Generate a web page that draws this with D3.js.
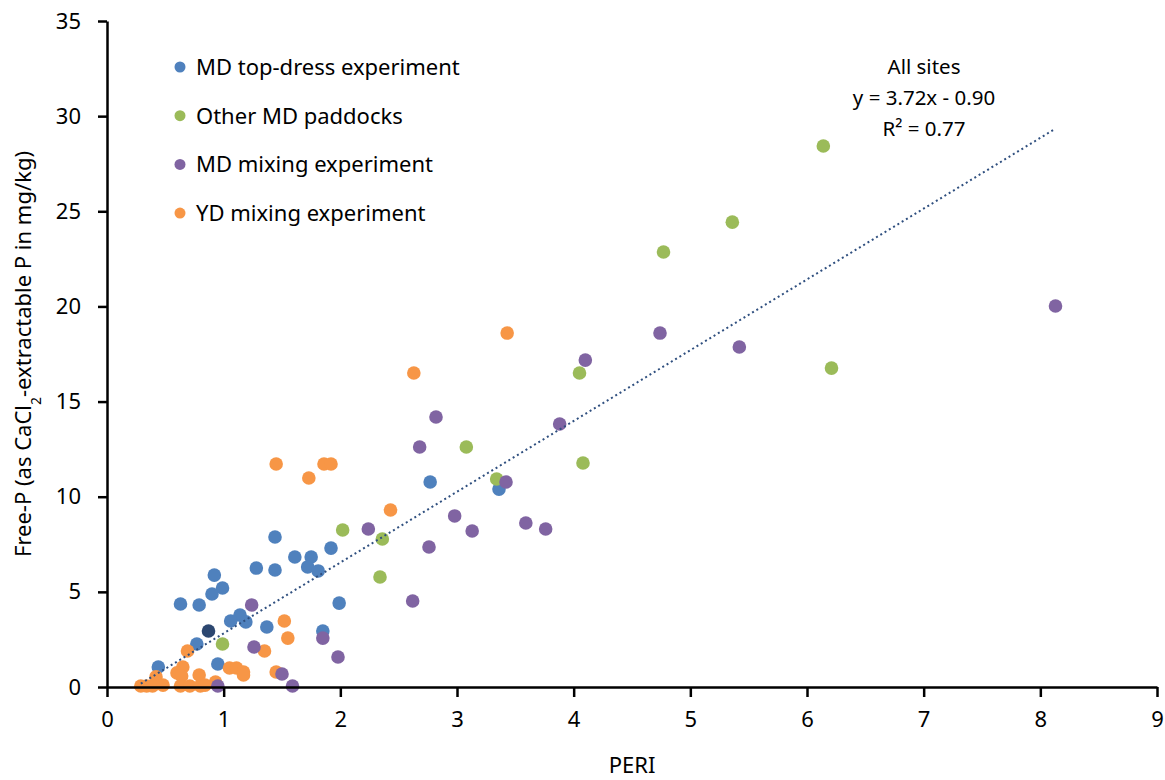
<!DOCTYPE html>
<html>
<head>
<meta charset="utf-8">
<script src="https://cdn.jsdelivr.net/npm/d3@7"></script>
<style>
  body { margin: 0; background: #fff; }
  svg { font-family: "Noto Sans", "Open Sans", sans-serif; }
</style>
</head>
<body>
<svg id="chart" width="1165" height="780"></svg>
<script>
// MD top-dress experiment
const topDressX = [2.77, 3.36, 1.44, 1.92, 1.61, 1.75, 1.72, 1.81, 1.28, 1.44, 0.92, 0.99, 0.90, 0.63, 0.79, 1.99, 1.14, 1.06, 1.19, 1.37, 1.85, 0.77, 0.44, 0.95];
const topDressY = [10.77, 10.40, 7.88, 7.30, 6.83, 6.83, 6.31, 6.10, 6.25, 6.15, 5.88, 5.20, 4.89, 4.36, 4.31, 4.41, 3.78, 3.47, 3.42, 3.15, 2.94, 2.26, 1.05, 1.21];

// Other MD paddocks
const paddockX = [6.14, 5.36, 4.77, 4.05, 6.21, 3.08, 4.08, 3.34, 2.02, 2.36, 2.34, 0.99];
const paddockY = [28.43, 24.43, 22.86, 16.50, 16.76, 12.61, 11.77, 10.93, 8.25, 7.78, 5.78, 2.26];

// MD mixing experiment
const mdMixX = [4.10, 4.74, 5.42, 8.13, 2.82, 3.88, 2.68, 3.42, 2.98, 2.24, 3.13, 3.59, 3.76, 2.76, 2.62, 1.24, 1.85, 1.26, 1.98, 1.50, 0.95, 1.59];
const mdMixY = [17.18, 18.60, 17.87, 20.02, 14.19, 13.82, 12.61, 10.77, 8.99, 8.30, 8.20, 8.62, 8.30, 7.36, 4.52, 4.31, 2.57, 2.10, 1.58, 0.68, 0.05, 0.05];

// YD mixing experiment
const ydMixX = [1.45, 1.73, 1.86, 1.92, 2.63, 3.43, 2.43, 1.52, 1.55, 1.35, 0.69, 1.05, 1.11, 1.17, 1.17, 0.65, 0.60, 0.64, 0.79, 1.45, 0.42, 0.93, 0.29, 0.34, 0.39, 0.48, 0.63, 0.71, 0.80, 0.84];
const ydMixY = [11.72, 10.98, 11.72, 11.72, 16.50, 18.60, 9.30, 3.47, 2.57, 1.89, 1.89, 1.00, 1.00, 0.79, 0.63, 1.05, 0.74, 0.58, 0.63, 0.79, 0.53, 0.26, 0.05, 0.05, 0.05, 0.10, 0.05, 0.05, 0.05, 0.10];

// single darker point in the cluster
const darkX = [0.87];
const darkY = [2.94];

const seriesNames = ["MD top-dress experiment", "Other MD paddocks", "MD mixing experiment", "YD mixing experiment"];
const xTicks = [0, 1, 2, 3, 4, 5, 6, 7, 8, 9];
const yTicks = [0, 5, 10, 15, 20, 25, 30, 35];

// trend line: y = 3.72x - 0.90
const trendSlope = 3.72;
const trendIntercept = -0.90;
const trendLabel = ["All sites", "y = 3.72x - 0.90", "R² = 0.77"];

const colors = ["#4f81bd", "#9bbb59", "#8064a2", "#f79646"];

const margin = { left: 107, right: 8, top: 21, bottom: 93 };
const width = 1165, height = 780;
const svg = d3.select("#chart");

const x = d3.scaleLinear().domain([0, 9]).range([margin.left, width - margin.right]);
const y = d3.scaleLinear().domain([0, 35]).range([height - margin.bottom, margin.top]);

function zip(xs, ys) { return xs.map((v, i) => [v, ys[i]]); }

const series = [
  { color: colors[0], pts: zip(topDressX, topDressY) },
  { color: colors[1], pts: zip(paddockX, paddockY) },
  { color: colors[3], pts: zip(ydMixX, ydMixY) },
  { color: colors[2], pts: zip(mdMixX, mdMixY) },
  { color: "#2c4770", pts: zip(darkX, darkY) }
];

// points
series.forEach(s => {
  svg.append("g").selectAll("circle")
    .data(s.pts)
    .enter().append("circle")
    .attr("cx", d => x(d[0]))
    .attr("cy", d => y(d[1]))
    .attr("r", 6.8)
    .attr("fill", s.color);
});

// trend line over all points
const allX = [].concat(topDressX, paddockX, mdMixX, ydMixX);
const xMin = d3.min(allX), xMax = d3.max(allX);
svg.append("line")
  .attr("x1", x(xMin)).attr("y1", y(trendSlope * xMin + trendIntercept))
  .attr("x2", x(xMax)).attr("y2", y(trendSlope * xMax + trendIntercept))
  .attr("stroke", "#2f4f7f")
  .attr("stroke-width", 2)
  .attr("stroke-dasharray", "2,3");

// axes
const xAxis = svg.append("g")
  .attr("transform", "translate(0," + y(0) + ")")
  .call(d3.axisBottom(x).tickValues(xTicks).tickSize(10).tickPadding(14).tickSizeOuter(0));
const yAxis = svg.append("g")
  .attr("transform", "translate(" + x(0) + ",0)")
  .call(d3.axisLeft(y).tickValues(yTicks).tickSize(9).tickPadding(17).tickSizeOuter(0));

[xAxis, yAxis].forEach(a => {
  a.select(".domain").attr("stroke", "#000").attr("stroke-width", 2.5);
  a.selectAll(".tick line").attr("stroke", "#000").attr("stroke-width", 2.5);
  a.selectAll(".tick text").attr("fill", "#000").style("font-size", "22px")
    .style("font-family", "'Noto Sans', sans-serif");
});

// axis titles
svg.append("text")
  .attr("x", x(4.5)).attr("y", 773)
  .attr("text-anchor", "middle")
  .style("font-size", "22px")
  .text("PERI");

const yTitle = svg.append("text")
  .attr("transform", "translate(31," + ((margin.top + height - margin.bottom) / 2) + ") rotate(-90)")
  .attr("text-anchor", "middle")
  .style("font-size", "22px");
yTitle.append("tspan").text("Free-P (as CaCl");
yTitle.append("tspan").attr("baseline-shift", "sub").style("font-size", "14px").text("2");
yTitle.append("tspan").text("-extractable P in mg/kg)");

// legend
const legend = svg.append("g");
seriesNames.forEach((name, i) => {
  const ly = 67 + i * 48.7;
  legend.append("circle").attr("cx", 180).attr("cy", ly).attr("r", 5.5).attr("fill", colors[i]);
  legend.append("text").attr("x", 196).attr("y", ly + 8)
    .style("font-size", "22px").text(name);
});

// regression annotation
trendLabel.forEach((t, i) => {
  svg.append("text")
    .attr("x", 924).attr("y", 74 + i * 31)
    .attr("text-anchor", "middle")
    .style("font-size", "20.5px")
    .text(t);
});
</script>
</body>
</html>
